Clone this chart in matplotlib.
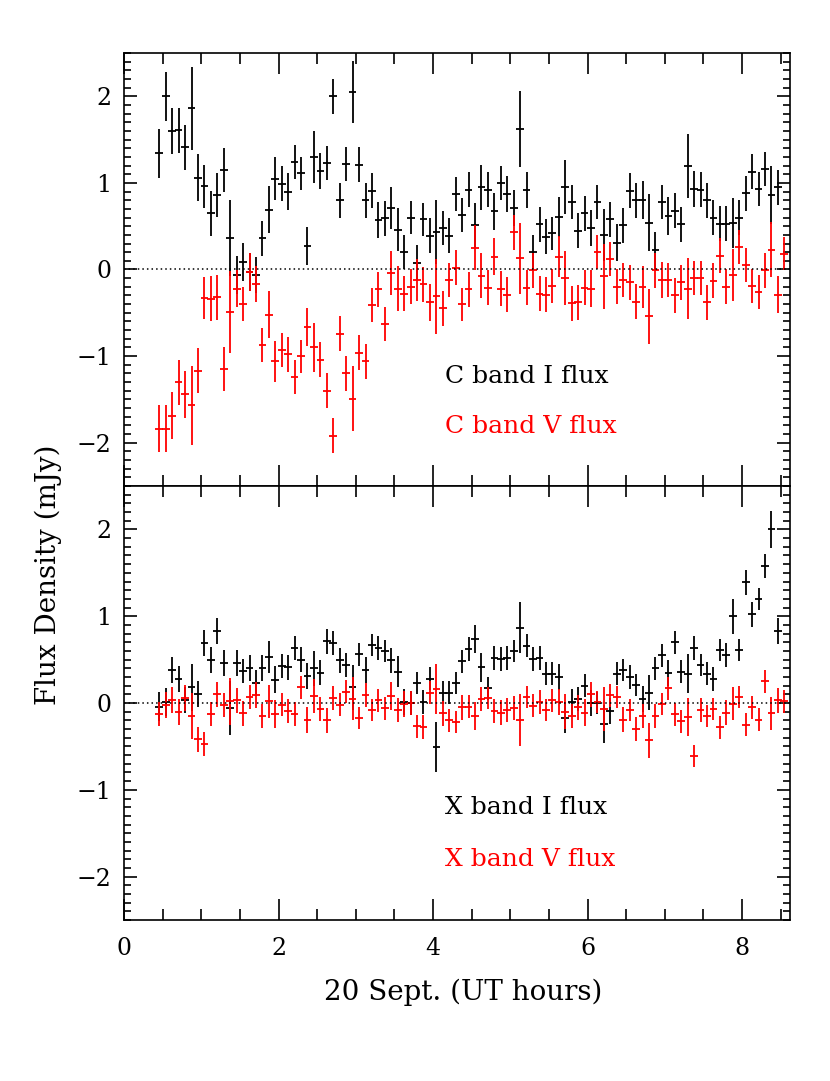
import numpy as np
import matplotlib
matplotlib.use('Agg')
import matplotlib.pyplot as plt
from matplotlib.ticker import MultipleLocator

plt.rcParams['font.family'] = ['DejaVu Serif']

# UT hours of each 5-minute sample
ut_hours = [0.457, 0.540, 0.624, 0.707, 0.791, 0.874, 0.957, 1.041, 1.124, 1.208,
            1.291, 1.374, 1.458, 1.541, 1.625, 1.708, 1.791, 1.875, 1.958, 2.042,
            2.125, 2.208, 2.292, 2.375, 2.459, 2.542, 2.625, 2.709, 2.792, 2.876,
            2.959, 3.042, 3.126, 3.209, 3.293, 3.376, 3.459, 3.543, 3.626, 3.710,
            3.793, 3.876, 3.960, 4.043, 4.127, 4.210, 4.293, 4.377, 4.460, 4.544,
            4.627, 4.710, 4.794, 4.877, 4.961, 5.044, 5.127, 5.211, 5.294, 5.378,
            5.461, 5.544, 5.628, 5.711, 5.795, 5.878, 5.961, 6.045, 6.128, 6.212,
            6.295, 6.378, 6.462, 6.545, 6.629, 6.712, 6.795, 6.879, 6.962, 7.046,
            7.129, 7.212, 7.296, 7.379, 7.463, 7.546, 7.629, 7.713, 7.796, 7.880,
            7.963, 8.046, 8.130, 8.213, 8.297, 8.380, 8.463, 8.547]

# C band, Stokes I
c_i = [1.34, 2.00, 1.60, 1.61, 1.41, 1.86, 1.06, 0.96, 0.65, 0.86,
       1.15, 0.36, -0.06, 0.09, -0.03, -0.06, 0.36, 0.69, 1.05, 0.99,
       0.90, 1.24, 1.11, 0.27, 1.30, 1.14, 1.23, 2.00, 0.80, 1.22,
       2.05, 1.21, 0.80, 0.91, 0.57, 0.59, 0.71, 0.46, 0.20, 0.60,
       0.08, 0.58, 0.39, 0.43, 0.48, 0.39, 0.87, 0.63, 0.92, 0.51,
       0.95, 0.92, 0.67, 1.00, 0.87, 0.71, 1.62, 0.92, 0.20, 0.52,
       0.38, 0.42, 0.61, 0.95, 0.78, 0.45, 0.65, 0.48, 0.78, 0.40,
       0.58, 0.31, 0.51, 0.91, 0.80, 0.80, 0.54, 0.22, 0.78, 0.62,
       0.68, 0.52, 1.20, 0.93, 0.92, 0.80, 0.60, 0.53, 0.53, 0.54,
       0.60, 0.88, 1.13, 0.93, 1.16, 0.86, 0.95]
c_i_err = [.28, .28, .27, .26, .26, .48, .27, .25, .26, .25,
           .25, .44, .22, .22, .22, .21, .20, .27, .25, .20,
           .21, .20, .19, .22, .30, .21, .20, .20, .20, .20,
           .36, .20, .20, .20, .21, .20, .24, .25, .20, .19,
           .20, .19, .20, .37, .20, .20, .20, .20, .20, .26,
           .26, .20, .21, .20, .21, .21, .44, .21, .20, .20,
           .20, .19, .23, .31, .20, .20, .20, .21, .20, .30,
           .20, .21, .20, .20, .20, .22, .33, .21, .20, .22,
           .20, .20, .37, .21, .20, .20, .20, .20, .20, .29,
           .20, .20, .20, .20, .20, .33, .20]

# C band, Stokes V
c_v = [-1.84, -1.84, -1.69, -1.30, -1.44, -1.57, -1.17, -0.33, -0.34, -0.32,
       -1.15, -0.49, -0.22, -0.40, -0.03, -0.17, -0.87, -0.52, -1.06, -0.93,
       -0.98, -1.24, -1.00, -0.66, -0.90, -1.04, -1.40, -1.92, -0.74, -1.20,
       -1.49, -0.96, -1.06, -0.41, -0.23, -0.63, -0.04, -0.22, -0.28, -0.20,
       -0.12, -0.17, -0.38, -0.31, -0.45, -0.12, 0.02, -0.40, -0.23, 0.25,
       -0.07, -0.21, 0.15, -0.22, -0.29, 0.43, 0.13, -0.21, -0.01, -0.28,
       -0.29, -0.19, 0.15, -0.10, -0.39, -0.38, -0.21, -0.22, 0.20, -0.08,
       0.12, -0.20, -0.12, -0.15, -0.37, -0.20, -0.54, -0.01, -0.12, -0.12,
       -0.30, -0.15, -0.22, -0.10, -0.10, -0.38, -0.13, 0.16, -0.20, -0.06,
       0.26, 0.05, -0.19, -0.26, -0.01, 0.23, -0.29, 0.18]
c_v_err = [.27, .27, .27, .26, .27, .46, .26, .24, .26, .26,
           .25, .47, .21, .20, .22, .21, .20, .27, .24, .20,
           .20, .20, .19, .22, .28, .20, .20, .20, .20, .20,
           .37, .20, .20, .20, .20, .20, .25, .26, .20, .20,
           .24, .20, .21, .43, .20, .20, .20, .19, .20, .26,
           .26, .20, .21, .20, .20, .20, .41, .20, .20, .20,
           .20, .20, .24, .31, .20, .20, .20, .21, .20, .38,
           .20, .20, .20, .20, .20, .24, .32, .20, .21, .20,
           .20, .20, .35, .20, .20, .20, .20, .20, .20, .30,
           .20, .20, .20, .20, .20, .32, .21, .19]

# X band, Stokes I
x_i = [-0.04, 0.01, 0.38, 0.28, 0.03, 0.18, 0.10, 0.69, 0.50, 0.83,
       0.46, -0.06, 0.46, 0.37, 0.40, 0.23, 0.40, 0.53, 0.27, 0.43,
       0.41, 0.63, 0.50, 0.31, 0.40, 0.35, 0.71, 0.69, 0.49, 0.44,
       0.18, 0.56, 0.38, 0.67, 0.63, 0.60, 0.49, 0.36, 0.01, 0.00,
       0.23, 0.01, 0.28, -0.51, 0.12, 0.12, 0.23, 0.48, 0.62, 0.74,
       0.41, 0.17, 0.52, 0.51, 0.52, 0.60, 0.87, 0.66, 0.51, 0.52,
       0.34, 0.34, 0.30, -0.17, 0.01, 0.05, 0.20, 0.00, 0.00, -0.24,
       -0.09, 0.34, 0.38, 0.30, 0.21, 0.05, 0.12, 0.40, 0.55, 0.35,
       0.70, 0.36, 0.34, 0.63, 0.44, 0.34, 0.28, 0.61, 0.55, 1.00,
       0.61, 1.39, 1.02, 1.20, 1.58, 2.00, 0.83]
x_i_err = [.17, .16, .15, .15, .15, .27, .15, .15, .15, .15,
           .15, .31, .15, .14, .15, .15, .15, .18, .16, .14,
           .14, .14, .14, .15, .20, .14, .14, .14, .14, .14,
           .26, .13, .15, .13, .14, .13, .14, .18, .15, .14,
           .13, .14, .13, .29, .13, .13, .13, .13, .14, .16,
           .17, .13, .14, .14, .14, .13, .29, .13, .14, .14,
           .13, .13, .15, .18, .15, .14, .13, .15, .13, .22,
           .15, .13, .13, .14, .13, .15, .20, .13, .13, .15,
           .13, .13, .23, .14, .13, .13, .14, .13, .14, .20,
           .13, .14, .14, .13, .14, .21, .15]

# X band, Stokes V
x_v = [-0.13, -0.02, 0.04, -0.10, 0.06, -0.15, -0.42, -0.47, -0.13, 0.10,
       -0.02, 0.02, 0.03, -0.12, 0.07, 0.09, -0.15, 0.02, -0.13, -0.02,
       -0.09, -0.13, 0.18, -0.19, 0.08, -0.07, -0.20, 0.06, -0.02, 0.13,
       0.05, -0.17, 0.09, -0.08, 0.03, -0.06, 0.08, -0.08, -0.01, 0.00,
       -0.27, -0.28, 0.12, 0.16, -0.12, -0.20, -0.22, -0.05, -0.04, -0.15,
       0.05, 0.06, -0.09, -0.11, -0.08, -0.06, -0.20, 0.07, -0.03, 0.01,
       -0.08, 0.03, 0.01, -0.10, -0.15, -0.05, -0.11, 0.10, 0.01, -0.07,
       0.09, 0.07, -0.19, -0.08, -0.30, -0.15, -0.43, -0.15, -0.01, 0.17,
       -0.13, -0.21, -0.16, -0.61, -0.08, -0.15, -0.07, -0.28, -0.11, -0.01,
       0.07, -0.25, -0.05, -0.19, 0.25, -0.12, 0.03, 0.02]
x_v_err = [.14, .15, .15, .15, .15, .27, .14, .14, .14, .14,
           .14, .27, .14, .14, .14, .15, .14, .19, .16, .13,
           .14, .14, .13, .15, .20, .14, .14, .14, .13, .13,
           .25, .13, .14, .13, .13, .13, .16, .14, .15, .14,
           .13, .14, .13, .29, .14, .13, .13, .14, .13, .16,
           .14, .13, .14, .14, .14, .14, .30, .13, .13, .14,
           .13, .13, .15, .20, .14, .14, .16, .14, .13, .25,
           .13, .13, .14, .13, .14, .14, .20, .14, .13, .13,
           .13, .13, .22, .13, .14, .13, .13, .13, .14, .19,
           .13, .13, .13, .13, .13, .19, .14, .13]

half_bin = 0.05  # horizontal half-width of each cross (hours)


def draw_series(ax, y, yerr, color):
    t = ut_hours[:len(y)]
    ax.errorbar(t, y, xerr=half_bin, yerr=yerr, fmt='none',
                ecolor=color, elinewidth=1.3, capsize=0)


def style_axis(ax):
    ax.set_xlim(0, 8.62)
    ax.set_ylim(-2.5, 2.5)
    ax.axhline(0, color='black', linestyle=(0, (1, 2)), linewidth=1.1)
    ax.xaxis.set_major_locator(MultipleLocator(2))
    ax.xaxis.set_minor_locator(MultipleLocator(0.5))
    ax.yaxis.set_major_locator(MultipleLocator(1))
    ax.yaxis.set_minor_locator(MultipleLocator(0.1))
    ax.tick_params(which='both', direction='in', top=True, right=True,
                   width=1.2, labelsize=17)
    ax.tick_params(axis='x', which='major', length=15, pad=12)
    ax.tick_params(axis='x', which='minor', length=8)
    ax.tick_params(axis='y', which='major', length=9.5, pad=9)
    ax.tick_params(axis='y', which='minor', length=5)
    for sp in ax.spines.values():
        sp.set_linewidth(1.2)


def main():
    fig = plt.figure(figsize=(8.3, 10.81), dpi=100)
    ax1 = fig.add_axes([0.1494, 0.5504, 0.8024, 0.4006])
    ax2 = fig.add_axes([0.1494, 0.1489, 0.8024, 0.4015])

    draw_series(ax1, c_i, c_i_err, 'black')
    draw_series(ax1, c_v, c_v_err, 'red')
    draw_series(ax2, x_i, x_i_err, 'black')
    draw_series(ax2, x_v, x_v_err, 'red')

    for ax in (ax1, ax2):
        style_axis(ax)
    ax1.tick_params(labelbottom=False)

    ax1.text(4.16, -1.23, 'C band I flux', color='black', fontsize=18, va='center')
    ax1.text(4.16, -1.81, 'C band V flux', color='red', fontsize=18, va='center')
    ax2.text(4.16, -1.20, 'X band I flux', color='black', fontsize=18, va='center')
    ax2.text(4.16, -1.80, 'X band V flux', color='red', fontsize=18, va='center')

    fig.text(0.558, 0.0823, '20 Sept. (UT hours)', fontsize=20,
             ha='center', va='center')
    fig.text(0.058, 0.468, 'Flux Density (mJy)', rotation=90, fontsize=20,
             ha='center', va='center')

    fig.savefig('out.png', dpi=100)


if __name__ == '__main__':
    main()
